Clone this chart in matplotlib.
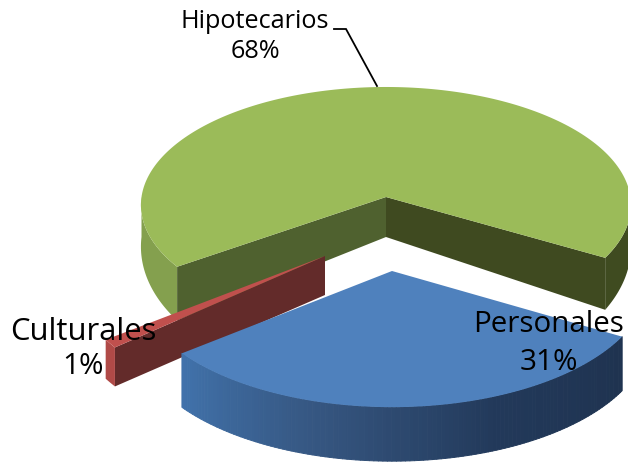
import numpy as np
import matplotlib
matplotlib.use('Agg')
import matplotlib.pyplot as plt
from matplotlib.colors import LinearSegmentedColormap
from matplotlib.collections import PolyCollection

categories = ['Hipotecarios', 'Personales', 'Culturales']
values = [68, 31, 1]
top_colors = ['#9BBB59', '#4F81BD', '#C0504D']

start_angle = 214.8
# perspective of the pie, in pixels
R, H, K = 244.5, 117.5, 0.068
centers = [(386, 197), (392, 271), (325, 256)]
scale_x = [1.0, 1.05, 1.05]
scale_y = [1.0, 1.08, 1.2]
depth = [40, 54, 39]
depth_grow = [0.6, 0.0, 0.0]


def rim(i, t):
    t = np.radians(t)
    u, v = np.cos(t), np.sin(t)
    w = 1 + K * v
    x = centers[i][0] + scale_x[i] * R * u / w
    y = centers[i][1] - scale_y[i] * H * v / w
    d = depth[i] * (1 - depth_grow[i] * v)
    return x, y, d


def side(ax, i, t0, t1, color, z):
    t = np.linspace(t0, t1, 80)
    x, y, d = rim(i, t)
    px = np.r_[x, x[::-1]]
    py = np.r_[y, (y + d)[::-1]]
    ax.fill(px, py, color=color, lw=0, zorder=z)


def wall(ax, i, t, color, z):
    x, y, d = rim(i, t)
    cx, cy = centers[i]
    ax.fill([cx, x, x, cx], [cy, y, y + d, cy + depth[i]], color=color, lw=0, zorder=z)


def top(ax, i, t0, t1, z):
    t = np.linspace(t0, t1, 200)
    x, y, d = rim(i, t)
    cx, cy = centers[i]
    ax.fill(np.r_[cx, x], np.r_[cy, y], color=top_colors[i], lw=0, zorder=z)


fig = plt.figure(figsize=(6.28, 4.63), dpi=100)
ax = fig.add_axes([0, 0, 1, 1])
ax.set_xlim(0, 628)
ax.set_ylim(463, 0)
ax.axis('off')

spans = np.array(values) / sum(values) * 360
ends = start_angle - np.cumsum(spans)
starts = np.r_[start_angle, ends[:-1]]

# Hipotecarios
side(ax, 0, 180, starts[0], '#84A04E', 1)
side(ax, 0, ends[0], 0, '#3F4B20', 1)
wall(ax, 0, starts[0], '#4F612F', 2)
wall(ax, 0, ends[0], '#3F4A20', 2)
top(ax, 0, starts[0], ends[0], 3)

# Culturales
wall(ax, 2, starts[2], '#632B2A', 4)
side(ax, 2, starts[2], ends[2], '#B04A47', 4)
top(ax, 2, starts[2], ends[2], 5)

# Personales, side goes from mid blue to dark navy
cmap = LinearSegmentedColormap.from_list('blue_side', ['#4172AB', '#35557F', '#22395A', '#1F3350'])
t = np.linspace(ends[1], starts[1], 120)
x, y, d = rim(1, t)
quads = [[(x[k], y[k]), (x[k + 1], y[k + 1]), (x[k + 1], y[k + 1] + d[k + 1]), (x[k], y[k] + d[k])]
         for k in range(len(t) - 1)]
cols = cmap(np.linspace(0, 1, len(quads)))
ax.add_collection(PolyCollection(quads, facecolors=cols, edgecolors=cols, linewidths=0.7, zorder=6))
top(ax, 1, starts[1], ends[1], 7)

# leader line
ax.plot([334, 346, 377], [29, 29, 86], color='black', lw=1.3, zorder=8, solid_joinstyle='miter')

font = 'Open Sans'
ax.text(255, 21, categories[0], ha='center', va='center', fontsize=18.2, family=font, zorder=9)
ax.text(255, 52, '%d%%' % values[0], ha='center', va='center', fontsize=18.2, family=font, zorder=9)
ax.text(549, 325, categories[1], ha='center', va='center', fontsize=21.3, family=font, zorder=9)
ax.text(549, 362, '%d%%' % values[1], ha='center', va='center', fontsize=21.3, family=font, zorder=9)
ax.text(83, 332, categories[2], ha='center', va='center', fontsize=22.3, family=font, zorder=9)
ax.text(83, 367, '%d%%' % values[2], ha='center', va='center', fontsize=21.3, family=font, zorder=9)

fig.savefig('out.png', dpi=100)
